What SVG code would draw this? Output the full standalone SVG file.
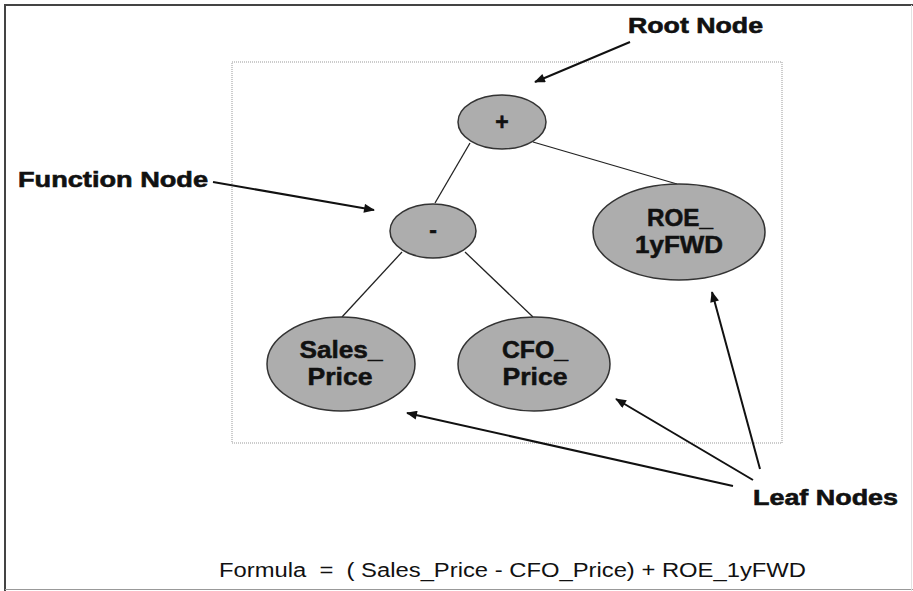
<svg xmlns="http://www.w3.org/2000/svg" width="913" height="591" viewBox="0 0 913 591">
<defs>
<marker id="ah" viewBox="0 0 12 10" refX="11" refY="5" markerWidth="12" markerHeight="9" markerUnits="userSpaceOnUse" orient="auto">
<path d="M0,0 L12,5 L0,10 z" fill="#111"/>
</marker>
</defs>
<style>
.node{fill:#adadad;stroke:#333;stroke-width:1.5}
.nt{font-family:"Liberation Sans",Arial,sans-serif;font-weight:bold;font-size:23px;fill:#111;stroke:#111;stroke-width:0.5;text-anchor:middle}
.lbl{font-family:"Liberation Sans",Arial,sans-serif;font-weight:bold;font-size:22px;fill:#111;stroke:#111;stroke-width:0.6}
.edge{stroke:#222;stroke-width:1.3;fill:none}
.arr{stroke:#111;stroke-width:2;fill:none;marker-end:url(#ah)}
</style>
<rect x="0" y="0" width="913" height="591" fill="#fff"/>
<g id="frame">
<line x1="4" y1="5" x2="913" y2="5" stroke="#444" stroke-width="2"/>
<line x1="5" y1="4" x2="5" y2="591" stroke="#444" stroke-width="2"/>
<line x1="5" y1="589.5" x2="913" y2="589.5" stroke="#999" stroke-width="1"/>
<line x1="911.5" y1="5" x2="911.5" y2="591" stroke="#e2e2e2" stroke-width="1"/>
</g>
<rect x="232" y="62" width="550" height="381" fill="none" stroke="#999" stroke-width="1" stroke-dasharray="1,1"/>
<g id="connectors">
<line class="edge" x1="470" y1="143" x2="435" y2="203"/>
<line class="edge" x1="533" y1="142" x2="677" y2="184"/>
<line class="edge" x1="402" y1="252" x2="342" y2="317"/>
<line class="edge" x1="465" y1="252" x2="533" y2="317"/>
<line class="arr" x1="630" y1="42" x2="535" y2="82"/>
<line class="arr" x1="213" y1="182" x2="374" y2="210"/>
<line class="arr" x1="733" y1="486" x2="407" y2="413"/>
<line class="arr" x1="753" y1="480" x2="616" y2="399"/>
<line class="arr" x1="760" y1="469" x2="712" y2="292"/>
</g>
<g id="root">
<ellipse class="node" cx="502" cy="122" rx="44" ry="27"/>
<text class="nt" x="502" y="130">+</text>
</g>
<g id="minus">
<ellipse class="node" cx="433" cy="231" rx="43" ry="27"/>
<text class="nt" x="433" y="238">-</text>
</g>
<g id="roe">
<ellipse class="node" cx="679" cy="232" rx="86" ry="48"/>
<text class="nt" x="680" y="226" textLength="66" lengthAdjust="spacingAndGlyphs">ROE_</text>
<text class="nt" x="679" y="253" textLength="88" lengthAdjust="spacingAndGlyphs">1yFWD</text>
</g>
<g id="sales">
<ellipse class="node" cx="341" cy="364" rx="74" ry="47"/>
<text class="nt" x="341" y="358" textLength="83" lengthAdjust="spacingAndGlyphs">Sales_</text>
<text class="nt" x="340" y="385" textLength="65" lengthAdjust="spacingAndGlyphs">Price</text>
</g>
<g id="cfo">
<ellipse class="node" cx="534" cy="364" rx="76" ry="47"/>
<text class="nt" x="535" y="358" textLength="66" lengthAdjust="spacingAndGlyphs">CFO_</text>
<text class="nt" x="535" y="385" textLength="65" lengthAdjust="spacingAndGlyphs">Price</text>
</g>
<g id="labels">
<text class="lbl" x="628" y="33" textLength="135" lengthAdjust="spacingAndGlyphs">Root Node</text>
<text class="lbl" x="18" y="187" textLength="190" lengthAdjust="spacingAndGlyphs">Function Node</text>
<text class="lbl" x="753" y="505" textLength="145" lengthAdjust="spacingAndGlyphs">Leaf Nodes</text>
<text x="219" y="577" xml:space="preserve" textLength="587" lengthAdjust="spacingAndGlyphs" font-family="'Liberation Sans',Arial,sans-serif" font-size="20" fill="#111">Formula  =  ( Sales_Price - CFO_Price) + ROE_1yFWD</text>
</g>
</svg>
